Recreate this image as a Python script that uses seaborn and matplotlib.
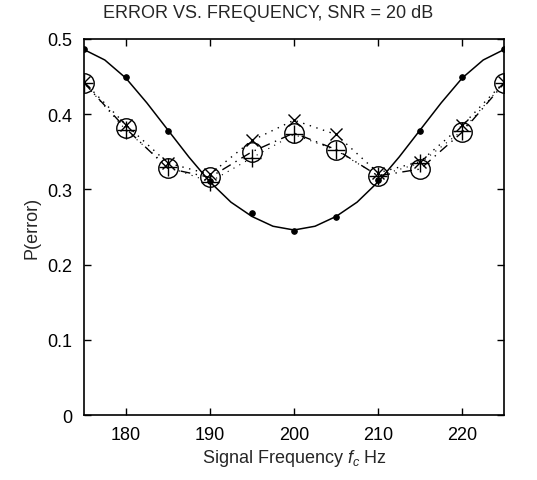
import matplotlib
matplotlib.use("Agg")
import matplotlib.pyplot as plt
import seaborn as sns
import pandas as pd

# data
freq = [175, 180, 185, 190, 195, 200, 205, 210, 215, 220, 225]
p_dots = [0.487, 0.449, 0.378, 0.311, 0.269, 0.245, 0.263, 0.312, 0.378, 0.449, 0.487]
p_x = [0.443, 0.386, 0.335, 0.320, 0.365, 0.392, 0.373, 0.322, 0.337, 0.385, 0.443]
p_circle = [0.442, 0.381, 0.328, 0.316, 0.350, 0.375, 0.353, 0.318, 0.327, 0.376, 0.441]
p_plus = [0.442, 0.379, 0.330, 0.310, 0.342, 0.373, 0.352, 0.318, 0.335, 0.378, 0.442]

# theory curve, read every 2.5 Hz
curve_freq = [175, 177.5, 180, 182.5, 185, 187.5, 190, 192.5, 195, 197.5, 200,
              202.5, 205, 207.5, 210, 212.5, 215, 217.5, 220, 222.5, 225]
curve_p = [0.486, 0.472, 0.448, 0.415, 0.379, 0.343, 0.310, 0.283, 0.264, 0.251, 0.246,
           0.251, 0.264, 0.283, 0.310, 0.343, 0.379, 0.415, 0.448, 0.472, 0.486]

sns.set_style("ticks")
plt.rcParams["font.family"] = ["Liberation Sans", "DejaVu Sans"]
plt.rcParams["mathtext.fontset"] = "custom"
plt.rcParams["mathtext.it"] = "Liberation Sans:italic"
plt.rcParams["mathtext.rm"] = "Liberation Sans"

fig = plt.figure(figsize=(5.37, 4.81), dpi=100)
ax = fig.add_axes([0.156, 0.135, 0.783, 0.782])

df = pd.DataFrame({"f": freq, "dots": p_dots, "x": p_x, "o": p_circle, "plus": p_plus})
curve = pd.DataFrame({"f": curve_freq, "p": curve_p})

sns.lineplot(data=curve, x="f", y="p", color="black", lw=1.1, ax=ax)
sns.lineplot(data=df, x="f", y="dots", color="black", lw=0, marker="o",
             markersize=4, markeredgecolor="black", ax=ax)
sns.lineplot(data=df, x="f", y="x", color="black", lw=1.0, ls=(0, (1, 4)),
             marker="x", markersize=9, markeredgecolor="black",
             markeredgewidth=1.0, ax=ax)
sns.lineplot(data=df, x="f", y="o", color="black", lw=1.0, ls=(0, (7, 4, 1, 4)),
             marker="o", markersize=14, markerfacecolor="none",
             markeredgecolor="black", markeredgewidth=1.0, ax=ax)
sns.lineplot(data=df, x="f", y="plus", color="black", lw=0.8, ls=(2, (1, 5)),
             marker="+", markersize=13, markeredgecolor="black",
             markeredgewidth=1.0, ax=ax)

ax.set_xlim(175, 225)
ax.set_ylim(0, 0.5)
ax.set_xticks([180, 190, 200, 210, 220])
ax.set_yticks([0, 0.1, 0.2, 0.3, 0.4, 0.5])
ax.set_yticklabels(["0", "0.1", "0.2", "0.3", "0.4", "0.5"])
ax.tick_params(direction="in", top=True, right=True, length=5, width=1,
               labelsize=13, colors="black", pad=8)
for s in ax.spines.values():
    s.set_visible(True)
    s.set_linewidth(1.2)
    s.set_color("black")

ax.set_title("ERROR VS. FREQUENCY, SNR = 20 dB", fontsize=13, pad=16, x=0.438)
ax.set_xlabel("Signal Frequency $f_c$ Hz", fontsize=13, labelpad=3)
ax.set_ylabel("P(error)", fontsize=13, labelpad=5)

fig.savefig("out.png", dpi=100)
